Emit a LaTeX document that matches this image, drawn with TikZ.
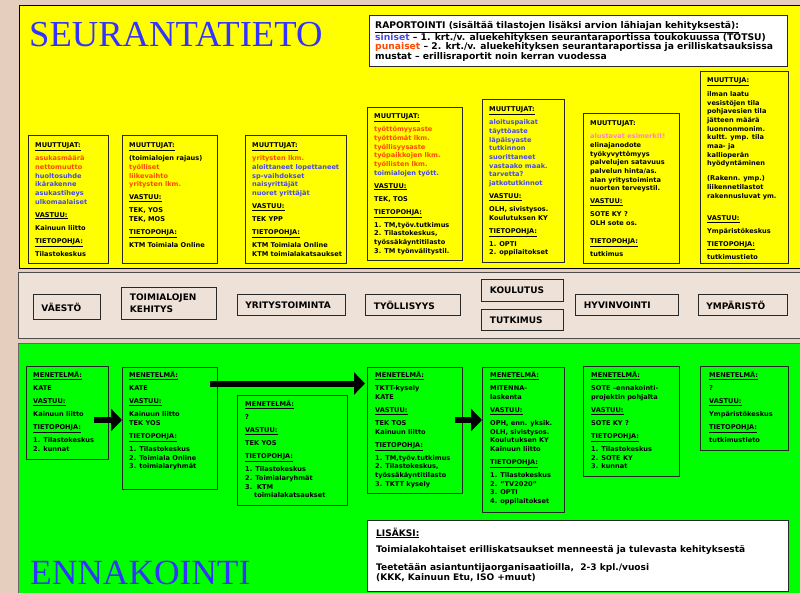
\documentclass[tikz,border=0pt]{standalone}
\usepackage{fontspec}
\setmainfont{DejaVu Sans}
\newfontfamily\titlefont{Liberation Serif}
\usetikzlibrary{arrows.meta}
\definecolor{bgpeach}{RGB}{230,206,190}
\definecolor{bandfill}{RGB}{238,225,216}
\definecolor{ylw}{RGB}{255,255,0}
\definecolor{grn}{RGB}{0,255,0}
\definecolor{ttlblue}{RGB}{51,51,255}
\definecolor{orT}{RGB}{255,72,0}
\definecolor{blT}{RGB}{72,72,232}
\definecolor{pkT}{RGB}{255,128,204}
\definecolor{boxline}{RGB}{40,40,40}
\newcommand{\hd}[1]{\underline{#1}}
\newcommand{\orl}[1]{\textcolor{orT}{#1}}
\newcommand{\bll}[1]{\textcolor{blT}{#1}}
\newcommand{\hgap}{\\[4.3pt]}
\newcommand{\fst}{\rule{0pt}{6.5pt}}
\begin{document}
\begin{tikzpicture}[x=1pt,y=-1pt,
  region/.style={line width=0.8pt, anchor=north west, inner sep=0pt},
  ubox/.style={draw=boxline, line width=1.1pt, fill=ylw, anchor=north west, inner sep=0pt},
  lbox/.style={draw=boxline, line width=1.1pt, fill=grn, anchor=north west, inner sep=0pt},
  wbox/.style={draw=boxline, line width=1pt, fill=white, anchor=north west, inner sep=0pt},
  btext/.style={anchor=north west, inner sep=0pt, align=left, font=\fontsize{6.6}{8.7}\selectfont\bfseries},
  tag/.style={draw=boxline, line width=0.9pt, fill=bandfill, anchor=north west, align=left, inner xsep=8.5pt, inner ysep=0pt, font=\fontsize{9}{12}\selectfont\bfseries},
  title/.style={anchor=base west, inner sep=0pt, text=ttlblue},
  bigarrow/.style={line width=6pt, -{Triangle[length=11pt,width=22pt]}},
]
\useasboundingbox (0,0) rectangle (800,593);
\fill[bgpeach] (0,0) rectangle (800,593);

% regions
\node[region, draw=black, fill=ylw, minimum width=784pt, minimum height=263pt] (yreg) at (19,5) {};
\node[region, draw=black!70, fill=bandfill, minimum width=785pt, minimum height=66pt] (band) at (18,272) {};
\node[region, draw=black!60, fill=grn, minimum width=785pt, minimum height=252pt] (greg) at (18,343) {};

% titles
\node[title, font=\titlefont\fontsize{36.6}{36.6}\selectfont] (t1) at (29,47) {SEURANTATIETO};
\node[title, font=\titlefont\fontsize{35.4}{35.4}\selectfont] (t2) at (30,584) {ENNAKOINTI};

% raportointi box
\node[wbox, minimum width=418pt, minimum height=51pt] (rap) at (369,15) {};
\node[anchor=north west, inner sep=0pt, align=left, font=\fontsize{9.2}{9.4}\selectfont\bfseries] (rapt) at ([xshift=6pt,yshift=-6pt]rap.north west)
{\rule{0pt}{7pt}\underline{RAPORTOINTI (sisältää tilastojen lisäksi arvion lähiajan kehityksestä):}\\
\bll{siniset} – 1. krt./v. aluekehityksen seurantaraportissa toukokuussa (TOTSU)\\
\orl{punaiset} – 2. krt./v. aluekehityksen seurantaraportissa ja erilliskatsauksissa\\
mustat – erillisraportit noin kerran vuodessa};

% upper boxes
\node[ubox, minimum width=80pt, minimum height=128pt] (u1) at (28,135) {};
\node[btext] (u1t) at ([xshift=7pt,yshift=-6pt]u1.north west)
{\fst\hd{MUUTTUJAT:}\hgap
\orl{asukasmäärä}\\ \orl{nettomuutto}\\ \bll{huoltosuhde}\\ \bll{ikärakenne}\\ \bll{asukastiheys}\\ \bll{ulkomaalaiset}\hgap
\hd{VASTUU:}\hgap
Kainuun liitto\hgap
\hd{TIETOPOHJA:}\hgap
Tilastokeskus};

\node[ubox, minimum width=95pt, minimum height=128pt] (u2) at (122,135) {};
\node[btext] (u2t) at ([xshift=7pt,yshift=-6pt]u2.north west)
{\fst\hd{MUUTTUJAT:}\hgap
(toimialojen rajaus)\\ \orl{työlliset}\\ \orl{liikevaihto}\\ \orl{yritysten lkm.}\hgap
\hd{VASTUU:}\hgap
TEK, YOS\\ TEK, MOS\hgap
\hd{TIETOPOHJA:}\hgap
KTM Toimiala Online};

\node[ubox, minimum width=101pt, minimum height=128pt] (u3) at (245,135) {};
\node[btext] (u3t) at ([xshift=7pt,yshift=-6pt]u3.north west)
{\fst\hd{MUUTTUJAT:}\hgap
\orl{yritysten lkm.}\\ \bll{aloittaneet lopettaneet}\\ \bll{sp-vaihdokset}\\ \bll{naisyrittäjät}\\ \bll{nuoret yrittäjät}\hgap
\hd{VASTUU:}\hgap
TEK YPP\hgap
\hd{TIETOPOHJA:}\hgap
KTM Toimiala Online\\ KTM toimialakatsaukset};

\node[ubox, minimum width=95pt, minimum height=153pt] (u4) at (367,107) {};
\node[btext] (u4t) at ([xshift=7pt,yshift=-5pt]u4.north west)
{\fst\hd{MUUTTUJAT:}\hgap
\orl{työttömyysaste}\\ \orl{työttömät lkm.}\\ \orl{työllisyysaste}\\ \orl{työpaikkojen lkm.}\\ \orl{työllisten lkm.}\\ \bll{toimialojen tyött.}\hgap
\hd{VASTUU:}\hgap
TEK, TOS\hgap
\hd{TIETOPOHJA:}\hgap
1. TM,työv.tutkimus\\ 2. Tilastokeskus,\\ työssäkäyntitilasto\\ 3. TM työnvälitystil.};

\node[ubox, minimum width=82pt, minimum height=163pt] (u5) at (482,99) {};
\node[btext] (u5t) at ([xshift=7pt,yshift=-6pt]u5.north west)
{\fst\hd{MUUTTUJAT:}\hgap
\bll{aloituspaikat}\\ \bll{täyttöaste}\\ \bll{läpäisyaste}\\ \bll{tutkinnon}\\ \bll{suorittaneet}\\ \bll{vastaako maak.}\\ \bll{tarvetta?}\\ \bll{jatkotutkinnot}\hgap
\hd{VASTUU:}\hgap
OLH, sivistysos.\\ Koulutuksen KY\hgap
\hd{TIETOPOHJA:}\hgap
1. OPTI\\ 2. oppilaitokset};

\node[ubox, minimum width=96pt, minimum height=150pt] (u6) at (583,113) {};
\node[btext] (u6t) at ([xshift=7pt,yshift=-6pt]u6.north west)
{\fst MUUTTUJAT:\hgap
\textcolor{pkT}{alustavat esimerkit!}\\ elinajanodote\\ työkyvyttömyys\\ palvelujen satavuus\\ palvelun hinta/as.\\ alan yritystoiminta\\ nuorten terveystil.\hgap
\hd{VASTUU:}\hgap
SOTE KY ?\\ OLH sote os.\\[9pt]
\hd{TIETOPOHJA:}\hgap
tutkimus};

\node[ubox, minimum width=88pt, minimum height=192pt] (u7) at (700,71) {};
\node[btext] (u7t) at ([xshift=7pt,yshift=-5pt]u7.north west)
{\fst\hd{MUUTTUJA:}\\[5pt]
ilman laatu\\ vesistöjen tila\\ pohjavesien tila\\ jätteen määrä\\ luonnonmonim.\\ kultt. ymp. tila\\ maa- ja\\ kallioperän\\ hyödyntäminen\\[6pt]
(Rakenn. ymp.)\\ liikennetilastot\\ rakennusluvat ym.\\[13.7pt]
\hd{VASTUU:}\hgap
Ympäristökeskus\hgap
\hd{TIETOPOHJA:}\hgap
tutkimustieto};

% band tags
\node[tag, text width=50pt, minimum height=25pt] (vae) at (32.5,294) {VÄESTÖ};
\node[tag, text width=78pt, minimum height=32.5pt] (toi) at (121,286.7) {TOIMIALOJEN\\KEHITYS};
\node[tag, text width=91.5pt, minimum height=21pt] (yri) at (236.5,294) {YRITYSTOIMINTA};
\node[tag, text width=78pt, minimum height=21pt] (tyo) at (365,294) {TYÖLLISYYS};
\node[tag, text width=64.5pt, minimum height=21.5pt] (kou) at (481,279.3) {KOULUTUS};
\node[tag, text width=64.5pt, minimum height=21pt] (tut) at (481,309) {TUTKIMUS};
\node[tag, text width=85.5pt, minimum height=21pt] (hyv) at (575,294) {HYVINVOINTI};
\node[tag, text width=72pt, minimum height=21pt] (ymp) at (697.5,294) {YMPÄRISTÖ};

% lower boxes
\node[lbox, minimum width=82pt, minimum height=93pt] (l1) at (26,366) {};
\node[btext] (l1t) at ([xshift=7pt,yshift=-5pt]l1.north west)
{\fst\hd{MENETELMÄ:}\hgap
KATE\hgap
\hd{VASTUU:}\hgap
Kainuun liitto\hgap
\hd{TIETOPOHJA:}\hgap
1. Tilastokeskus\\ 2. kunnat};

\node[lbox, minimum width=95pt, minimum height=122pt] (l2) at (122,367) {};
\node[btext] (l2t) at ([xshift=7pt,yshift=-4pt]l2.north west)
{\fst\hd{MENETELMÄ:}\hgap
KATE\hgap
\hd{VASTUU:}\hgap
Kainuun liitto\\ TEK YOS\hgap
\hd{TIETOPOHJA:}\hgap
1. Tilastokeskus\\ 2. Toimiala Online\\ 3. toimialaryhmät};

\node[lbox, minimum width=110pt, minimum height=110pt] (l3) at (237,395) {};
\node[btext] (l3t) at ([xshift=8pt,yshift=-5pt]l3.north west)
{\fst\hd{MENETELMÄ:}\hgap
?\hgap
\hd{VASTUU:}\hgap
TEK YOS\hgap
\hd{TIETOPOHJA:}\hgap
1. Tilastokeskus\\ 2. Toimialaryhmät\\ 3.\ \ KTM\\ \hspace*{9pt}toimialakatsaukset};

\node[lbox, minimum width=95pt, minimum height=126pt] (l4) at (367,367) {};
\node[btext] (l4t) at ([xshift=8pt,yshift=-4pt]l4.north west)
{\fst\hd{MENETELMÄ:}\hgap
TKTT-kysely\\ KATE\hgap
\hd{VASTUU:}\hgap
TEK TOS\\ Kainuun liitto\hgap
\hd{TIETOPOHJA:}\hgap
1. TM,työv.tutkimus\\ 2. Tilastokeskus,\\ työssäkäyntitilasto\\ 3. TKTT kysely};

\node[lbox, minimum width=82pt, minimum height=145pt] (l5) at (482,367) {};
\node[btext] (l5t) at ([xshift=8pt,yshift=-4pt]l5.north west)
{\fst\hd{MENETELMÄ:}\hgap
MITENNA-\\ laskenta\hgap
\hd{VASTUU:}\hgap
OPH, enn. yksik.\\ OLH, sivistysos.\\ Koulutuksen KY\\ Kainuun liitto\hgap
\hd{TIETOPOHJA:}\hgap
1. Tilastokeskus\\ 2. "TV2020"\\ 3. OPTI\\ 4. oppilaitokset};

\node[lbox, minimum width=96pt, minimum height=110pt] (l6) at (583,366) {};
\node[btext] (l6t) at ([xshift=8pt,yshift=-5pt]l6.north west)
{\fst\hd{MENETELMÄ:}\hgap
SOTE –ennakointi-\\ projektin pohjalta\hgap
\hd{VASTUU:}\hgap
SOTE KY ?\hgap
\hd{TIETOPOHJA:}\hgap
1. Tilastokeskus\\ 2. SOTE KY\\ 3. kunnat};

\node[lbox, minimum width=88pt, minimum height=84pt] (l7) at (700,366) {};
\node[btext] (l7t) at ([xshift=9pt,yshift=-5pt]l7.north west)
{\fst\hd{MENETELMÄ:}\hgap
?\hgap
\hd{VASTUU:}\hgap
Ympäristökeskus\hgap
\hd{TIETOPOHJA:}\hgap
tutkimustieto};

% lisäksi box
\node[wbox, minimum width=421pt, minimum height=71pt] (lis) at (367,520) {};
\node[anchor=north west, inner sep=0pt, align=left, font=\fontsize{9.05}{8.6}\selectfont\bfseries] (list) at ([xshift=9pt,yshift=-7.5pt]lis.north west)
{\rule{0pt}{7pt}\underline{LISÄKSI:}\\[6.4pt]
Toimialakohtaiset erilliskatsaukset menneestä ja tulevasta kehityksestä\\[7.9pt]
Teetetään asiantuntijaorganisaatioilla,\ \ 2-3 kpl./vuosi\\
(KKK, Kainuun Etu, ISO +muut)};

% arrows
\coordinate (a1) at (94,420);
\draw[bigarrow] (a1) -- (a1 -| l2.west);
\coordinate (a2) at (210,383.5);
\draw[bigarrow] (a2) -- ([xshift=-2pt]a2 -| l4.west);
\coordinate (a3) at (455,420);
\draw[bigarrow] (a3) -- (a3 -| l5.west);
\end{tikzpicture}
\end{document}
